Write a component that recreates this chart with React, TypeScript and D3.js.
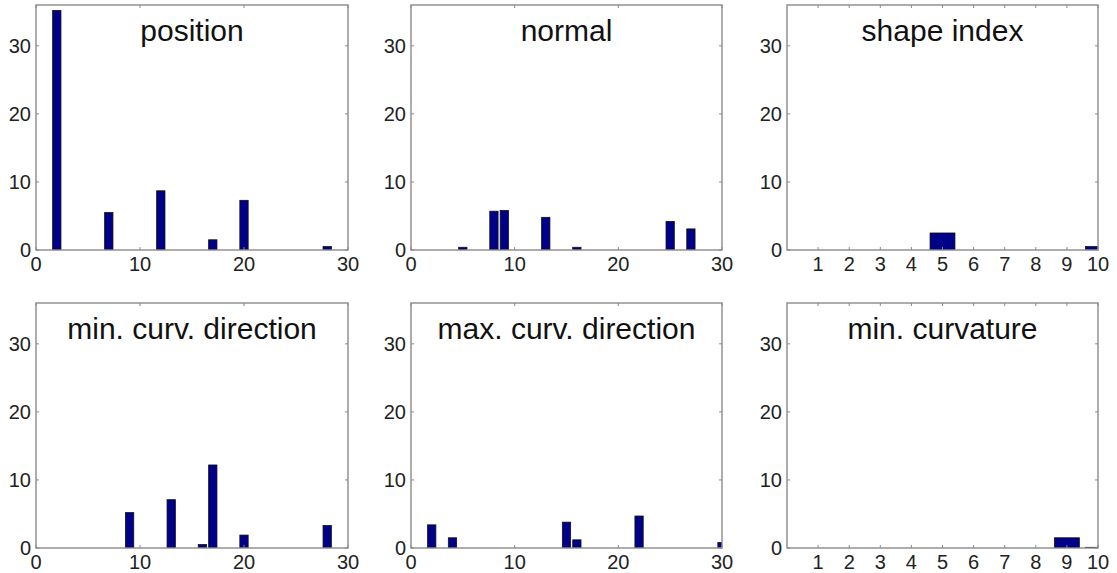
import React from "react";
import * as d3 from "d3";

// values
const positionBins = [2, 7, 12, 17, 20, 28];
const positionCounts = [35.2, 5.5, 8.7, 1.5, 7.3, 0.5];

const normalBins = [5, 8, 9, 13, 16, 25, 27];
const normalCounts = [0.4, 5.7, 5.8, 4.8, 0.4, 4.2, 3.1];

const shapeIndexBins = [5, 10];
const shapeIndexCounts = [2.5, 0.5];

const minDirBins = [9, 13, 16, 17, 20, 28];
const minDirCounts = [5.2, 7.1, 0.5, 12.2, 1.9, 3.3];

const maxDirBins = [2, 4, 15, 16, 22, 30];
const maxDirCounts = [3.4, 1.5, 3.8, 1.2, 4.7, 0.8];

const minCurvBins = [9, 10];
const minCurvCounts = [1.5, 0.1];

const titles = [
  "position",
  "normal",
  "shape index",
  "min. curv. direction",
  "max. curv. direction",
  "min. curvature",
];

const wideTicks = [0, 10, 20, 30];
const narrowTicks = [1, 2, 3, 4, 5, 6, 7, 8, 9, 10];
const yTicks = [0, 10, 20, 30];

const W = 1117;
const H = 573;
const cols = [
  [36, 348],
  [411, 722],
  [787, 1098],
];
const rows = [
  [5, 250],
  [303, 548],
];

const FONT = "'Liberation Sans', Arial, Helvetica, sans-serif";
const BAR = "#000088";
const AXIS = "#8a8a8a";

interface PanelDef {
  title: string;
  bins: number[];
  counts: number[];
  wide: boolean;
}

const panels: PanelDef[] = [
  { title: titles[0], bins: positionBins, counts: positionCounts, wide: true },
  { title: titles[1], bins: normalBins, counts: normalCounts, wide: true },
  { title: titles[2], bins: shapeIndexBins, counts: shapeIndexCounts, wide: false },
  { title: titles[3], bins: minDirBins, counts: minDirCounts, wide: true },
  { title: titles[4], bins: maxDirBins, counts: maxDirCounts, wide: true },
  { title: titles[5], bins: minCurvBins, counts: minCurvCounts, wide: false },
];

const Panel: React.FC<{ p: PanelDef; idx: number }> = ({ p, idx }) => {
  const [x0, x1] = cols[idx % 3];
  const [y0, y1] = rows[Math.floor(idx / 3)];
  const x = d3
    .scaleLinear()
    .domain(p.wide ? [0, 30] : [0, 10])
    .range([x0, x1]);
  const y = d3.scaleLinear().domain([0, 36]).range([y1, y0]);
  const xt = p.wide ? wideTicks : narrowTicks;
  const tl = 3;
  const clipId = `clip${idx}`;

  return (
    <g>
      <clipPath id={clipId}>
        <rect x={x0} y={y0} width={x1 - x0} height={y1 - y0} />
      </clipPath>
      <rect x={x0} y={y0} width={x1 - x0} height={y1 - y0} fill="#fff" />
      <g clipPath={`url(#${clipId})`}>
        {p.bins.map((b, i) => (
          <rect
            key={i}
            x={x(b - 0.4)}
            y={y(p.counts[i])}
            width={x(b + 0.4) - x(b - 0.4)}
            height={y(0) - y(p.counts[i])}
            fill={BAR}
            stroke="#111"
            strokeWidth={0.8}
          />
        ))}
      </g>
      <rect
        x={x0}
        y={y0}
        width={x1 - x0}
        height={y1 - y0}
        fill="none"
        stroke={AXIS}
        strokeWidth={1.4}
      />
      {xt.map((t) => (
        <g key={`x${t}`}>
          <line x1={x(t)} x2={x(t)} y1={y1} y2={y1 - tl} stroke={AXIS} />
          <line x1={x(t)} x2={x(t)} y1={y0} y2={y0 + tl} stroke={AXIS} />
          <text
            x={x(t)}
            y={y1 + 21}
            textAnchor="middle"
            fontFamily={FONT}
            fontSize={20}
            fill="#222"
          >
            {t}
          </text>
        </g>
      ))}
      {yTicks.map((t) => (
        <g key={`y${t}`}>
          <line x1={x0} x2={x0 + tl} y1={y(t)} y2={y(t)} stroke={AXIS} />
          <line x1={x1} x2={x1 - tl} y1={y(t)} y2={y(t)} stroke={AXIS} />
          <text
            x={x0 - 5}
            y={y(t)}
            dy="0.36em"
            textAnchor="end"
            fontFamily={FONT}
            fontSize={20}
            fill="#222"
          >
            {t}
          </text>
        </g>
      ))}
      <text
        x={(x0 + x1) / 2}
        y={y0 + 36}
        textAnchor="middle"
        fontFamily={FONT}
        fontSize={30}
        fill="#111"
      >
        {p.title}
      </text>
    </g>
  );
};

export default function App() {
  return (
    <svg
      width={W}
      height={H}
      style={{ position: "absolute", left: 0, top: 0, background: "#fff" }}
    >
      {panels.map((p, i) => (
        <Panel key={i} p={p} idx={i} />
      ))}
    </svg>
  );
}
